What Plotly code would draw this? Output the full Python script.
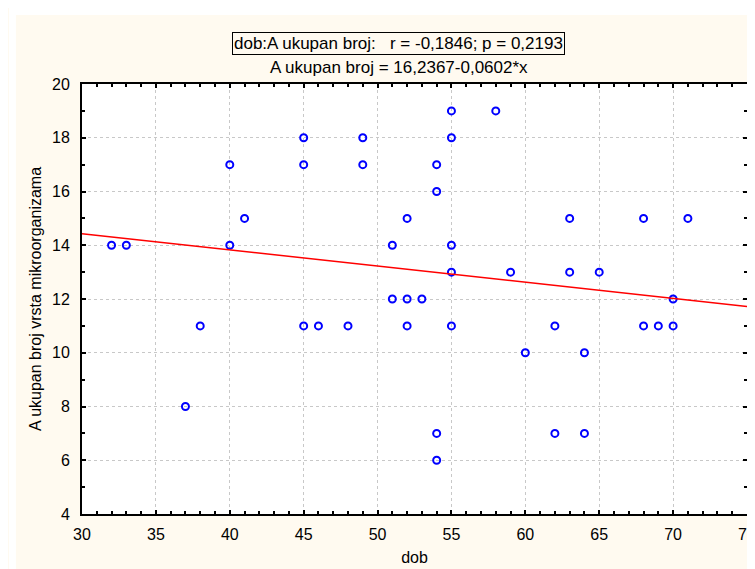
import plotly.graph_objects as go

# data
dob = [32, 33, 37, 38, 40, 40, 41, 45, 45, 45, 46, 48, 49, 49, 51, 51, 52, 52, 52, 53,
       54, 54, 54, 54, 55, 55, 55, 55, 55, 58, 59, 60, 62, 62, 63, 63, 64, 64, 65,
       68, 68, 69, 70, 70, 71]
ukupan = [14, 14, 8, 11, 17, 14, 15, 18, 17, 11, 11, 11, 18, 17, 14, 12, 15, 12, 11, 12,
          17, 16, 7, 6, 19, 18, 14, 13, 11, 19, 13, 10, 11, 7, 15, 13, 10, 7, 13,
          15, 11, 11, 12, 11, 15]
intercept = 16.2367
slope = -0.0602
x_range = [30, 75]
y_range = [4, 20]
x_ticks = [30, 35, 40, 45, 50, 55, 60, 65, 70, 75]
y_ticks = [4, 6, 8, 10, 12, 14, 16, 18, 20]

title_box = "dob:A ukupan broj:\u00a0\u00a0\u00a0r = -0,1846; p = 0,2193"
title_eq = "A ukupan broj = 16,2367-0,0602*x"

W, H = 755, 569
L, R, T, B = 74, 7, 76, 63
FONT = "Liberation Sans, Arial"

fig = go.Figure()
fig.add_trace(go.Scatter(
    x=dob, y=ukupan, mode="markers",
    marker=dict(symbol="circle-open", size=7, color="#0000FF",
                line=dict(width=2, color="#0000FF")),
    showlegend=False, hoverinfo="x+y"))
fig.add_trace(go.Scatter(
    x=x_range, y=[intercept + slope * x for x in x_range], mode="lines",
    line=dict(color="#FF0000", width=1.5), showlegend=False))

axis_common = dict(
    showline=True, linecolor="black", linewidth=2, mirror="ticks",
    ticks="inside", ticklen=4, tickcolor="black", tickwidth=1.5,
    showgrid=True, gridcolor="#C8C8C8", griddash="dot", gridwidth=1,
    zeroline=False,
    tickfont=dict(family=FONT, size=16, color="black"),
    minor=dict(ticks="inside", ticklen=3, tickcolor="black", showgrid=False),
)

fig.update_xaxes(range=x_range, tickvals=x_ticks, ticklabelstandoff=5, **axis_common,
                 title=dict(text="dob", font=dict(family=FONT, size=16, color="black"),
                            standoff=10))
fig.update_xaxes(minor=dict(dtick=1))
fig.update_yaxes(range=y_range, tickvals=y_ticks, ticklabelstandoff=7, **axis_common,
                 title=dict(text="A ukupan broj vrsta mikroorganizama",
                            font=dict(family=FONT, size=16, color="black"),
                            standoff=6))
fig.update_yaxes(minor=dict(dtick=1))

def px_to_paper_x(px):
    return (px - L) / (W - L - R)

def px_to_paper_y(py):
    return 1 - (py - T) / (H - T - B)

fig.add_annotation(
    text=title_box, xref="paper", yref="paper",
    x=px_to_paper_x(395), y=px_to_paper_y(35), xanchor="center", yanchor="middle",
    showarrow=False,
    font=dict(family=FONT, size=17, color="black"),
    bordercolor="black", borderwidth=1, borderpad=1)
fig.add_annotation(
    text=title_eq, xref="paper", yref="paper",
    x=px_to_paper_x(395), y=px_to_paper_y(59), xanchor="center", yanchor="middle",
    showarrow=False,
    font=dict(family=FONT, size=17, color="black"))

# white strips at top and left edges
fig.add_shape(type="rect", xref="paper", yref="paper",
              x0=px_to_paper_x(0), x1=px_to_paper_x(W), y0=px_to_paper_y(0), y1=px_to_paper_y(7),
              fillcolor="white", line=dict(width=0), layer="below")
fig.add_shape(type="rect", xref="paper", yref="paper",
              x0=px_to_paper_x(0), x1=px_to_paper_x(7), y0=px_to_paper_y(0), y1=px_to_paper_y(H),
              fillcolor="white", line=dict(width=0), layer="below")

fig.update_layout(
    width=W, height=H,
    margin=dict(l=L, r=R, t=T, b=B),
    paper_bgcolor="#FFFAF0", plot_bgcolor="white",
    font=dict(family=FONT, size=16, color="black"),
)

fig.write_html("out.html")
